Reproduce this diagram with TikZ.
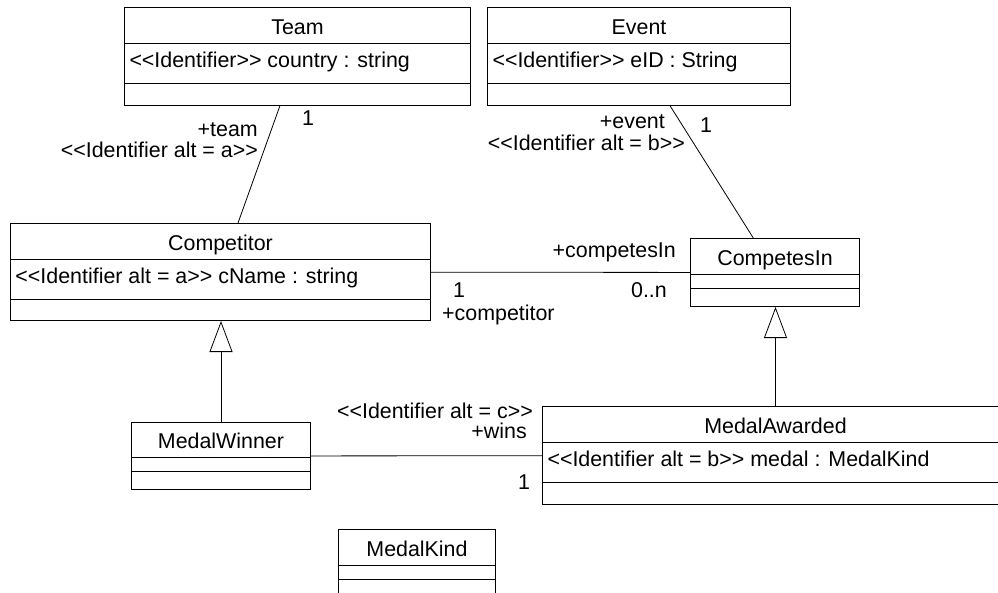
\documentclass[tikz,border=0pt]{standalone}
\usepackage{fontspec}
\setmainfont{Liberation Sans}
\usetikzlibrary{shapes.multipart, arrows.meta}

\newcommand{\stereo}[1]{<{}<#1>{}>}
\newcommand{\titlestrut}{\rule[-9pt]{0pt}{35pt}}
\newcommand{\attrstrut}{\rule[-16pt]{0pt}{39pt}}

\begin{document}
\begin{tikzpicture}[
    x=1pt, y=-1pt,
    font=\fontsize{21.4pt}{22pt}\selectfont,
    % Styles
    umlclass/.style={draw, line width=1pt, rectangle split, rectangle split parts=3,
        rectangle split part align={center,left,left}, anchor=north west,
        minimum width=#1, minimum height=1pt, inner xsep=5pt, inner ysep=0pt},
    assoc/.style={line width=0.8pt},
    gen/.style={line width=0.8pt, -{Triangle[open, width=23pt, length=31pt]}},
    role/.style={inner sep=0pt}
]
    \useasboundingbox (0,0) rectangle (998,592);

    % Classes
    \node (team) [umlclass=346pt] at (124,7) {
        \titlestrut Team
        \nodepart{two}\attrstrut\stereo{Identifier} country : string
        \nodepart{three}\rule{0pt}{21pt}
    };

    \node (event) [umlclass=303pt] at (487,7) {
        \titlestrut Event
        \nodepart{two}\attrstrut\stereo{Identifier} eID : String
        \nodepart{three}\rule{0pt}{21pt}
    };

    \node (comp) [umlclass=420pt] at (10,223) {
        \titlestrut Competitor
        \nodepart{two}\attrstrut\stereo{Identifier alt = a} cName : string
        \nodepart{three}\rule{0pt}{20pt}
    };

    \node (cin) [umlclass=169pt] at (690,238) {
        \titlestrut CompetesIn
        \nodepart{two}\rule{0pt}{13pt}
        \nodepart{three}\rule{0pt}{17pt}
    };

    \node (mw) [umlclass=179pt] at (131,422) {
        \rule[-9pt]{0pt}{34pt}MedalWinner
        \nodepart{two}\rule{0pt}{13pt}
        \nodepart{three}\rule{0pt}{17pt}
    };

    \node (ma) [umlclass=466pt] at (542,406) {
        \titlestrut MedalAwarded
        \nodepart{two}\attrstrut\stereo{Identifier alt = b} medal : MedalKind
        \nodepart{three}\rule{0pt}{21pt}
    };

    \node (mk) [umlclass=157pt] at (338,529) {
        \titlestrut MedalKind
        \nodepart{two}\rule{0pt}{13pt}
        \nodepart{three}\rule{0pt}{17pt}
    };

    % Associations
    \draw [assoc] (team) -- (comp);
    \draw [assoc] (event) -- (cin);
    \draw [assoc] (comp) -- (cin);
    \draw [assoc] (mw) -- (ma);

    % Generalizations
    \draw [gen] (mw.north) -- (mw.north |- comp.south);
    \draw [gen] (ma.north) -- (ma.north |- cin.south);

    % Role names and multiplicities
    \node (teamrole) [role, anchor=base east] at (258,136) {+team};
    \node (teamid) [role, anchor=base east] at (258,157) {\stereo{Identifier alt = a}};
    \node (teammult) [role, anchor=base west] at (302,125) {1};

    \node (eventrole) [role, anchor=base east] at (665,128) {+event};
    \node (eventid) [role, anchor=base east] at (685,150) {\stereo{Identifier alt = b}};
    \node (eventmult) [role, anchor=base west] at (700,132) {1};

    \node (cinrole) [role, anchor=base east] at (676,257) {+competesIn};
    \node (cinmult) [role, anchor=base east] at (667,297) {0..n};
    \node (compmult) [role, anchor=base west] at (453,297) {1};
    \node (comprole) [role, anchor=base west] at (442,320) {+competitor};

    \node (winsid) [role, anchor=base east] at (533,418) {\stereo{Identifier alt = c}};
    \node (winsrole) [role, anchor=base east] at (527,438) {+wins};
    \node (winsmult) [role, anchor=base west] at (518,489) {1};

\end{tikzpicture}
\end{document}
